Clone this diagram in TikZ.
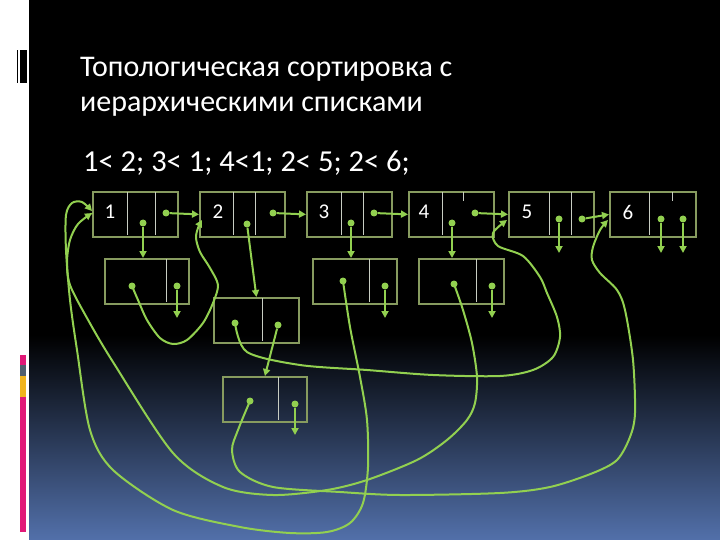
\documentclass[tikz,border=0pt]{standalone}
\usepackage{fontspec}
\setmainfont{Carlito}
\usetikzlibrary{arrows.meta}

\definecolor{lnk}{RGB}{146,208,80}
\definecolor{frm}{RGB}{135,155,95}
\definecolor{sep}{RGB}{200,205,195}
\definecolor{bluebot}{RGB}{82,112,170}
\definecolor{pinkbar}{RGB}{225,25,120}
\definecolor{greybar}{RGB}{80,95,110}
\definecolor{goldbar}{RGB}{240,180,30}

\tikzset{
        frame/.style={draw=frm, line width=1.8pt, inner sep=0pt, anchor=north west, minimum height=45pt},
        sepline/.style={draw=sep, line width=0.8pt},
        numtxt/.style={text=white, font=\fontsize{21}{24}\selectfont},
        link/.style={draw=lnk, line width=2pt, -{Triangle[length=7pt,width=7pt]}},
        knob/.style={circle, fill=lnk, inner sep=0pt, minimum size=7pt}
}

\begin{document}
\begin{tikzpicture}[x=1pt, y=-1pt]
        \useasboundingbox (0,0) rectangle (720,540);
        \fill[white] (0,0) rectangle (29,540);
        \fill[black] (29,0) rectangle (720,335);
        \shade[top color=black, bottom color=bluebot] (29,335) rectangle (720,540);
        \fill[black] (16.5,50) rectangle (18,83);
        \fill[black] (19.5,50) rectangle (27,83);
        \fill[pinkbar] (20,355) rectangle (26,365);
        \fill[greybar] (20,365) rectangle (26,376);
        \fill[goldbar] (20,376) rectangle (26,397);
        \fill[pinkbar] (20,397) rectangle (26,532);

        \node[anchor=base west, text=white, font=\fontsize{30}{36}\selectfont, inner sep=0pt] (title1) at (80,77) {Топологическая сортировка с};
        \node[anchor=base west, text=white, font=\fontsize{30}{36}\selectfont, inner sep=0pt] (title2) at (80,112) {иерархическими списками};
        \node[anchor=base west, text=white, font=\fontsize{30.5}{36}\selectfont, inner sep=0pt] (rules) at (83,172) {1< 2; 3< 1; 4<1; 2< 5; 2< 6;};

        \node[frame, minimum width=85pt] (box1) at (92,191) {};
        \node[frame, minimum width=85pt] (box2) at (199,191) {};
        \node[frame, minimum width=85pt] (box3) at (306,191) {};
        \node[frame, minimum width=85pt] (box4) at (408,191) {};
        \node[frame, minimum width=85pt] (box5) at (508,191) {};
        \node[frame, minimum width=86pt] (box6) at (609,191) {};
        \draw[sepline] (127,192) -- (127,235);
        \draw[sepline] (155,192) -- (155,235);
        \draw[sepline] (233,192) -- (233,235);
        \draw[sepline] (255,192) -- (255,235);
        \draw[sepline] (341,192) -- (341,235);
        \draw[sepline] (363,192) -- (363,235);
        \draw[sepline] (442,192) -- (442,235);
        \draw[sepline] (463,192) -- (463,201);
        \draw[sepline] (549,192) -- (549,235);
        \draw[sepline] (571,192) -- (571,235);
        \draw[sepline] (649,192) -- (649,235);
        \draw[sepline] (672,192) -- (672,201);
        \node[numtxt] (n1) at (110,212) {1};
        \node[numtxt] (n2) at (218,212) {2};
        \node[numtxt] (n3) at (324,212) {3};
        \node[numtxt] (n4) at (424,212) {4};
        \node[numtxt] (n5) at (527,212) {5};
        \node[numtxt] (n6) at (628,212) {6};

        \node[frame, minimum width=84pt] (lst1) at (104,258) {};
        \node[frame, minimum width=85pt] (lst2) at (213,297) {};
        \node[frame, minimum width=84pt] (lst3) at (312,258) {};
        \node[frame, minimum width=85pt] (lst4) at (418,258) {};
        \node[frame, minimum width=84pt] (lst5) at (222,376) {};
        \draw[sepline] (166,259) -- (166,302);
        \draw[sepline] (262,298) -- (262,341);
        \draw[sepline] (369,259) -- (369,302);
        \draw[sepline] (476,259) -- (476,302);
        \draw[sepline] (278,377) -- (278,420);

        \node[knob] (d1a) at (143,223) {};
        \node[knob] (d1b) at (166,213) {};
        \node[knob] (d2a) at (247,224) {};
        \node[knob] (d2b) at (273,213) {};
        \node[knob] (d3a) at (351,223) {};
        \node[knob] (d3b) at (374,213) {};
        \node[knob] (d4a) at (452,223) {};
        \node[knob] (d4b) at (475,213) {};
        \node[knob] (d5a) at (559,219) {};
        \node[knob] (d5b) at (582,219) {};
        \node[knob] (d6a) at (661,219) {};
        \node[knob] (d6b) at (683,219) {};
        \node[knob] (la1) at (132,286) {};
        \node[knob] (la2) at (177,286) {};
        \node[knob] (lb1) at (235,323) {};
        \node[knob] (lb2) at (278,325) {};
        \node[knob] (lc1) at (343,281) {};
        \node[knob] (lc2) at (385,286) {};
        \node[knob] (ld1) at (454,284) {};
        \node[knob] (ld2) at (492,286) {};
        \node[knob] (le1) at (250,401) {};
        \node[knob] (le2) at (295,404) {};

        \coordinate (nil5a) at (559,253);
        \coordinate (nil6a) at (661,253);
        \coordinate (nil6b) at (683,253);
        \coordinate (nila) at (177,318);
        \coordinate (nilc) at (385,318);
        \coordinate (nild) at (492,318);
        \coordinate (nile) at (295,435);

        \draw[link] (d1b) -- (box2.west);
        \draw[link] (d2b) -- (box3.west);
        \draw[link] (d3b) -- (box4.west);
        \draw[link] (d4b) -- (box5.west);
        \draw[link] (d5b) -- (box6.west);
        \draw[link] (d1a) -- (lst1.north -| d1a);
        \draw[link] (d2a) -- (lst2.north);
        \draw[link] (d3a) -- (lst3.north -| d3a);
        \draw[link] (d4a) -- (lst4.north -| d4a);
        \draw[link] (lb2) -- (lst5.north);
        \draw[link] (d5a) -- (nil5a);
        \draw[link] (d6a) -- (nil6a);
        \draw[link] (d6b) -- (nil6b);
        \draw[link] (la2) -- (nila);
        \draw[link] (lc2) -- (nilc);
        \draw[link] (ld2) -- (nild);
        \draw[link] (le2) -- (nile);

        \draw[link] plot[smooth] coordinates {(la1) (138,300) (147,320) (160,338) (173,344) (187,340) (203,323) (213,303) (218,285) (210,268) (200,252) (196,238) (198,228) (202,220)};
        \draw[link] plot[smooth] coordinates {(lb1) (247,352) (300,365) (367,370) (433,375) (500,376) (533,370) (553,357) (560,337) (557,317) (547,293) (540,277) (523,256) (498,246) (493,233) (507,220)};
        \draw[link] plot[smooth] coordinates {(lc1) (350,327) (360,377) (367,420) (368,467) (363,503) (350,523) (327,532) (290,533) (240,527) (173,510) (113,470) (90,430) (77,350) (70,300) (66,250) (66,215) (72,203) (82,202) (92,211)};
        \draw[link] plot[smooth] coordinates {(ld1) (463,310) (472,343) (477,377) (475,403) (467,420) (447,440) (417,460) (367,480) (327,490) (273,495) (223,487) (173,453) (113,362) (87,318) (70,285) (67,262) (70,240) (78,224) (92,213)};
        \draw[link] plot[smooth] coordinates {(le1) (238,430) (232,450) (240,472) (273,487) (340,492) (400,495) (500,493) (550,487) (593,473) (617,460) (630,437) (635,413) (633,360) (625,310) (617,290) (600,273) (592,260) (593,247) (600,230) (608,220)};
\end{tikzpicture}
\end{document}
